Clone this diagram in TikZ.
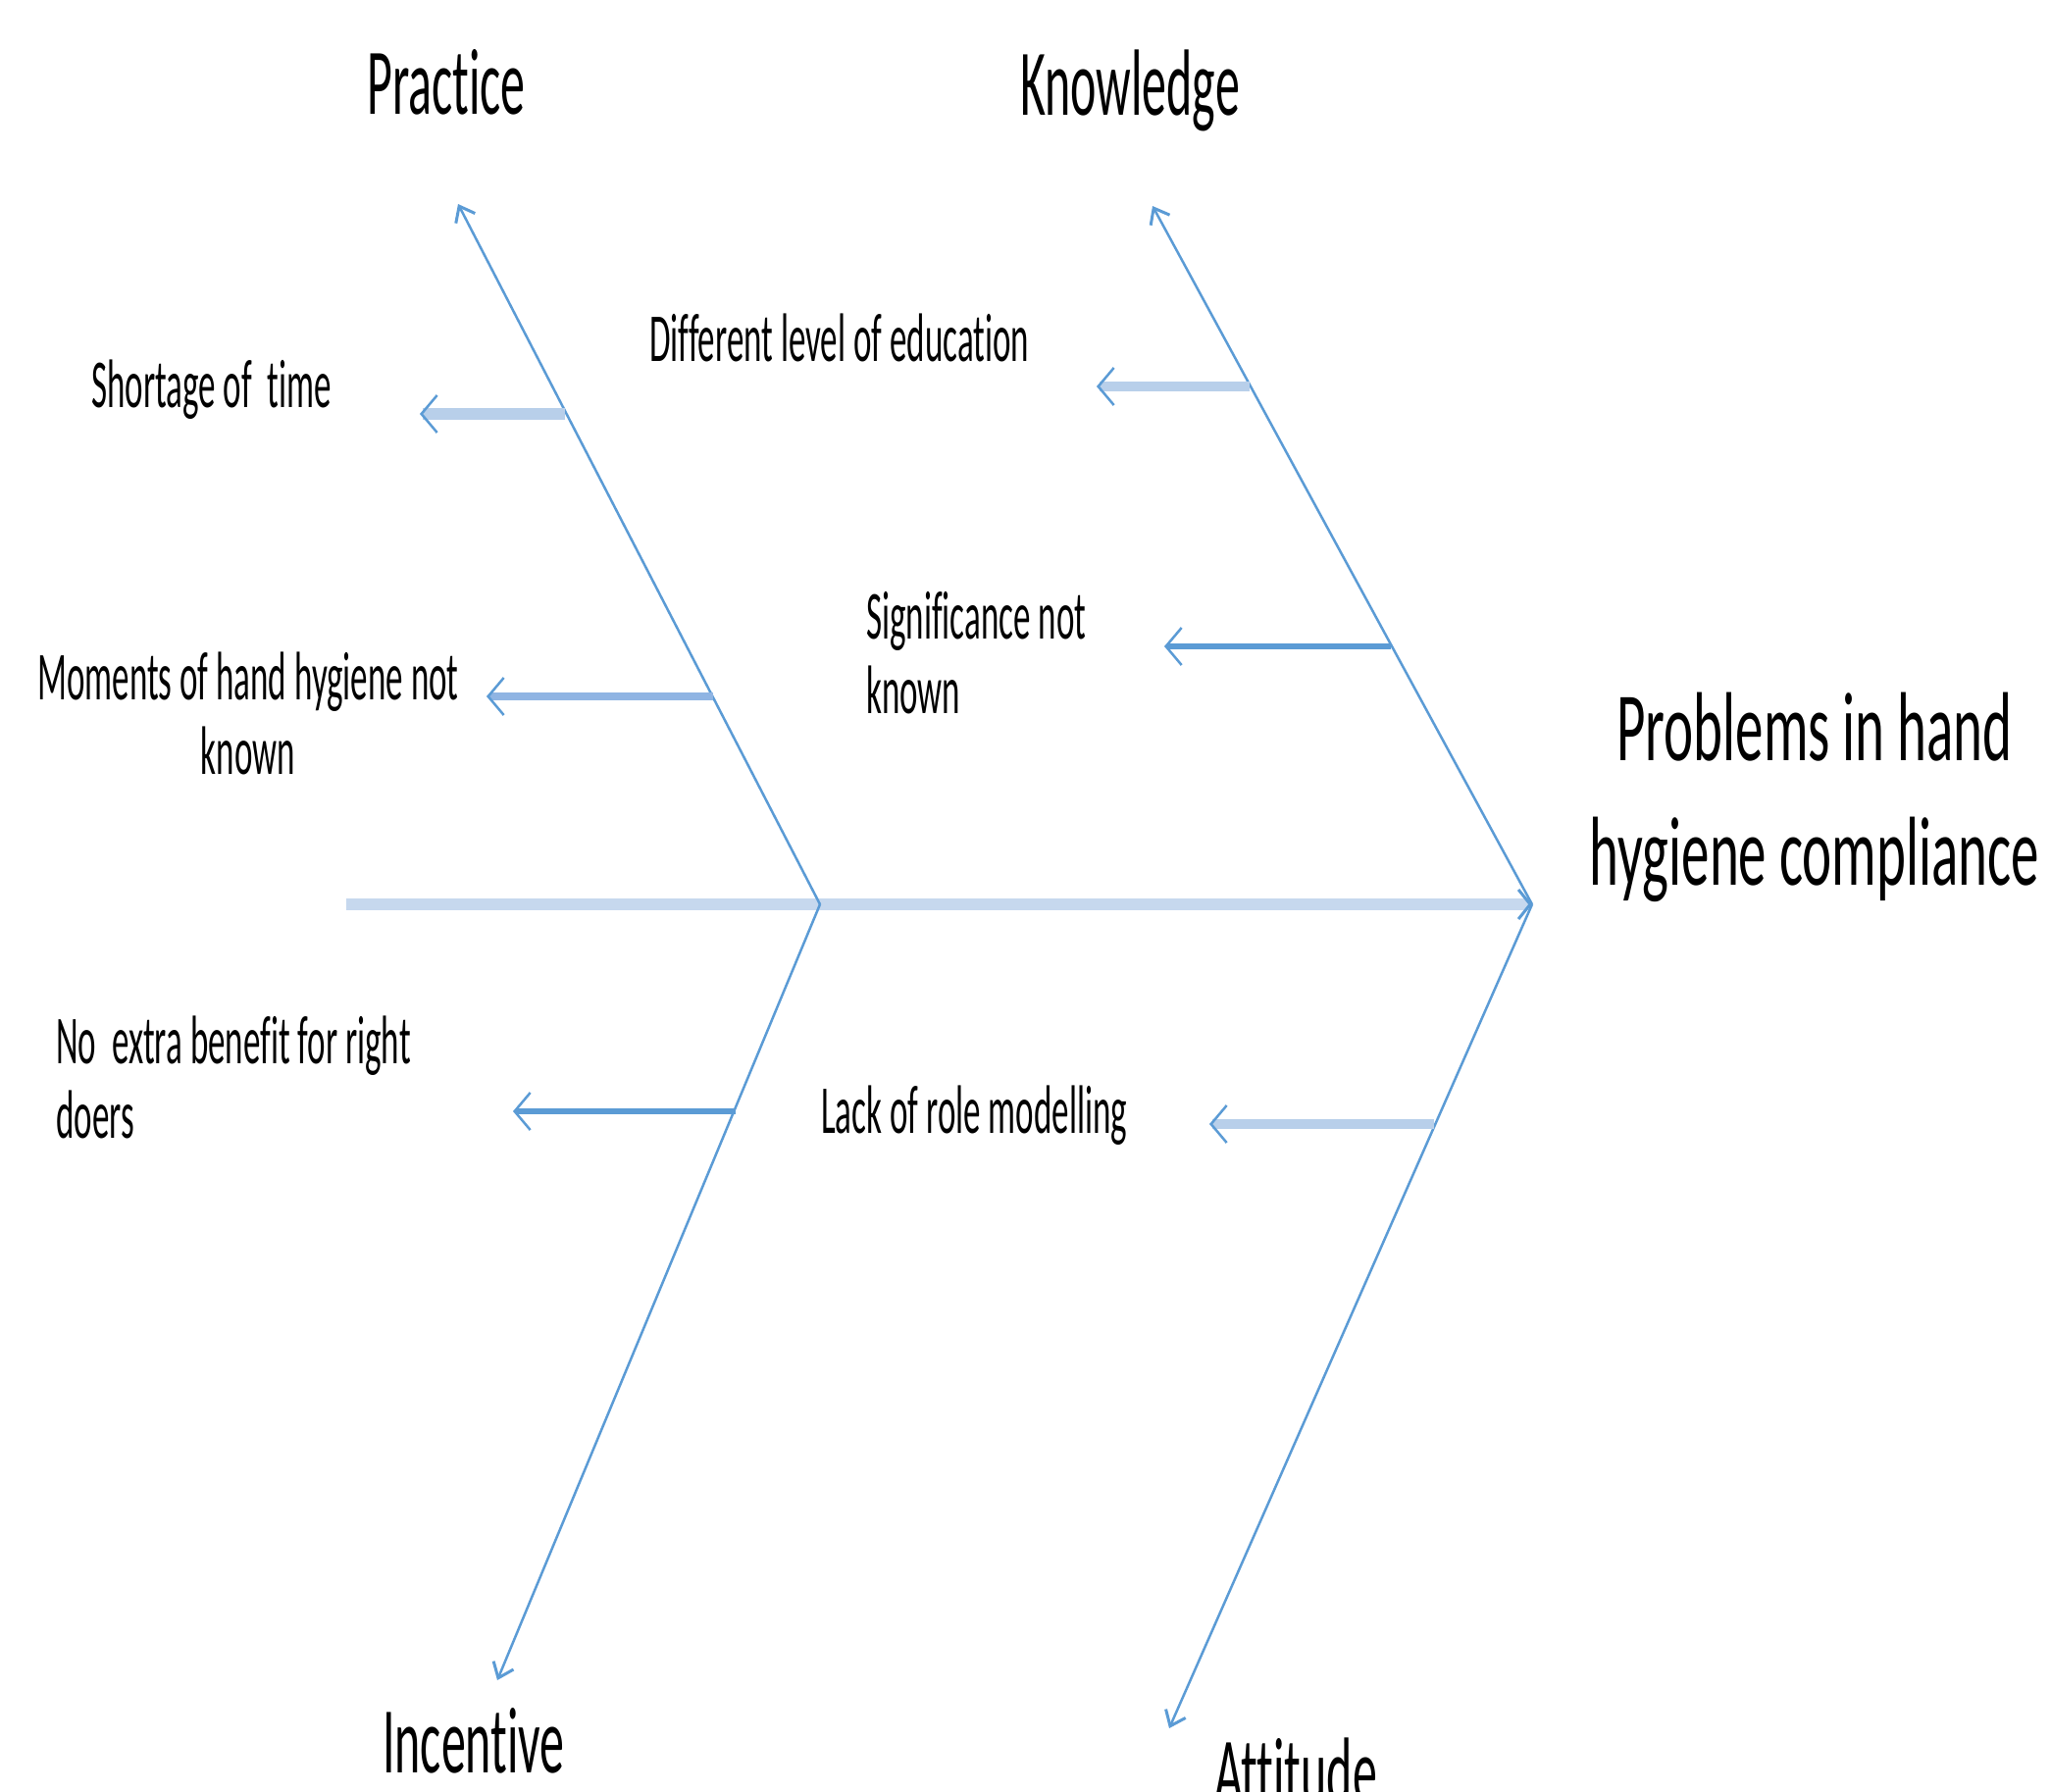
\documentclass[tikz,border=0pt]{standalone}
\usepackage{fontspec}
\setmainfont{Carlito}[FakeStretch=0.5,Ligatures=NoCommon]
\newfontfamily\headfont{Carlito}[FakeStretch=0.52,Ligatures=NoCommon]
\newfontfamily\probfont{Carlito}[FakeStretch=0.57,Ligatures=NoCommon]
\usetikzlibrary{arrows.meta}
\definecolor{bone}{HTML}{5B9BD5}
\definecolor{spinec}{HTML}{C6D8EE}
\definecolor{lightarr}{HTML}{B8CFEA}
\definecolor{midarr}{HTML}{8FB4E3}
\tikzset{
  head/.style={inner sep=0pt, font=\headfont\fontsize{96}{110}\selectfont},
  lab/.style={inner sep=0pt, font=\fontsize{70}{76}\selectfont},
  prob/.style={inner sep=0pt, font=\probfont\fontsize{100}{127}\selectfont},
  bonearrow/.style={draw=bone, line width=2.5pt, -{Straight Barb[length=14pt,width=22pt,line width=3pt]}},
  sidearrow/.style={-{Straight Barb[length=16pt,width=38pt,line width=2.5pt,color=bone]}},
  spineline/.style={draw=spinec, line width=12pt, -{Straight Barb[length=12pt,width=30pt,line width=3pt,color=bone]}}
}
\begin{document}
\begin{tikzpicture}[x=1pt,y=-1pt]
\useasboundingbox (0,0) rectangle (2090,1826);
\clip (0,0) rectangle (2090,1826);
% skeleton points
\coordinate (S0) at (353,922);
\coordinate (J1) at (836,922);
\coordinate (J2) at (1562,922);
\coordinate (TP) at (467,208);
\coordinate (TK) at (1175,210);
\coordinate (TI) at (507,1713);
\coordinate (TA) at (1192,1762);
% side arrow points
\coordinate (b1) at (576,422);  \coordinate (a1) at (428,422);
\coordinate (b2) at (727,710);  \coordinate (a2) at (496,710);
\coordinate (b3) at (1274,394); \coordinate (a3) at (1118,394);
\coordinate (b4) at (1418,659); \coordinate (a4) at (1187,659);
\coordinate (b5) at (750,1133); \coordinate (a5) at (523,1133);
\coordinate (b6) at (1462,1146);\coordinate (a6) at (1233,1146);
% spine
\draw[spineline] (S0) -- (J2);
% bones
\draw[bonearrow] (J1) -- (TP);
\draw[bonearrow] (J2) -- (TK);
\draw[bonearrow] (J1) -- (TI);
\draw[bonearrow] (J2) -- (TA);
% side arrows
\draw[sidearrow, draw=lightarr, line width=12pt] (b1) -- (a1);
\draw[sidearrow, draw=midarr, line width=8pt] (b2) -- (a2);
\draw[sidearrow, draw=lightarr, line width=10pt] (b3) -- (a3);
\draw[sidearrow, draw=bone, line width=6pt] (b4) -- (a4);
\draw[sidearrow, draw=bone, line width=6pt] (b5) -- (a5);
\draw[sidearrow, draw=lightarr, line width=10pt] (b6) -- (a6);
% texts
\node[head, anchor=base] (practice) at (455,116) {Practice};
\node[head, anchor=base] (knowledge) at (1152,117) {Knowledge};
\node[head, anchor=base] (incentive) at (483,1807) {Incentive};
\node[head, anchor=base] (attitude) at (1321,1838) {Attitude};
\node[lab, anchor=base west] (diff) at (662,368) {Different level of education};
\node[lab, anchor=base west] (short) at (93,415) {Shortage of~ time};
\node[lab, anchor=base, align=center] (mom) at (253,789) {Moments of hand hygiene not\\known};
\node[lab, anchor=base west, align=left] (sig) at (883,727) {Significance not\\known};
\node[lab, anchor=base west, align=left] (noext) at (57,1160) {No~ extra benefit for right\\doers};
\node[lab, anchor=base west] (lack) at (837,1155) {Lack of role modelling};
\node[prob, anchor=base, align=center] (prob) at (1850,902) {Problems in hand\\hygiene compliance};
\end{tikzpicture}
\end{document}
